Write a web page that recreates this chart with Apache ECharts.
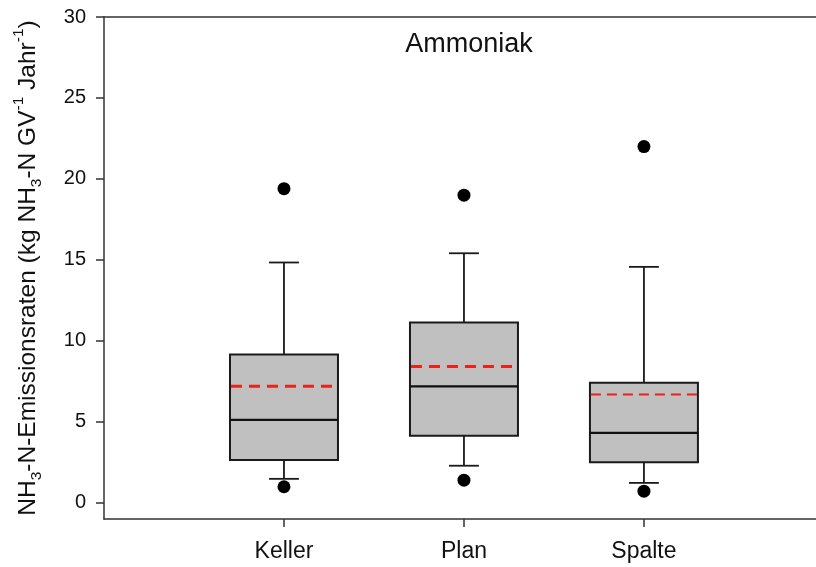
<!DOCTYPE html>
<html>
<head>
<meta charset="utf-8">
<script src="https://cdn.jsdelivr.net/npm/echarts@6/dist/echarts.min.js"></script>
<style>html,body{margin:0;padding:0;background:#fff}#c{width:816px;height:567px}</style>
</head>
<body>
<div id="c"></div>
<script>
// ---- data ----
const categories = ['Keller', 'Plan', 'Spalte'];
const whiskerLow = [1.48, 2.29, 1.23];
const q1 = [2.64, 4.14, 2.51];
const median = [5.12, 7.19, 4.32];
const q3 = [9.16, 11.13, 7.41];
const whiskerHigh = [14.84, 15.41, 14.57];
const mean = [7.19, 8.42, 6.69];
const outliers = [[1, 19.4], [1, 0.99], [2, 19.0], [2, 1.40], [3, 22.0], [3, 0.72]];
const yTicks = [0, 5, 10, 15, 20, 25, 30];
const xTicks = [1, 2, 3];

// ---- styles ----
const meanWidth = [3, 3, 2];
const meanDash = [[11, 7], [11, 7], [10, 6]];
const BOX_HALF = 0.3;
const CAP_HALF = 0.083;
const FONT = "'Liberation Sans', Arial, sans-serif";

const boxData = categories.map((c, i) => [i + 1, whiskerLow[i], q1[i], median[i], q3[i], whiskerHigh[i], mean[i]]);

const axisLineStyle = { color: '#333', width: 1.5 };

const chart = echarts.init(document.getElementById('c'));
chart.setOption({
  animation: false,
  backgroundColor: '#fff',
  textStyle: { fontFamily: FONT },
  title: {
    text: 'Ammoniak', left: 464, top: 26, textAlign: 'center',
    textStyle: { fontFamily: FONT, fontSize: 27, fontWeight: 'normal', color: '#111' }
  },
  grid: { left: 104, right: 0, top: 17, bottom: 48, show: false },
  xAxis: [{
    type: 'value', min: 0, max: 3.956, position: 'bottom',
    splitLine: { show: false },
    axisLine: { show: true, onZero: false, lineStyle: axisLineStyle },
    axisTick: { show: true, customValues: xTicks, length: 8, lineStyle: axisLineStyle },
    axisLabel: { customValues: xTicks, formatter: v => categories[Math.round(v) - 1] || '', fontSize: 23, margin: 21, color: '#111', fontFamily: FONT }
  }, {
    type: 'value', min: 0, max: 3.956, position: 'top',
    splitLine: { show: false },
    axisLine: { show: true, onZero: false, lineStyle: axisLineStyle },
    axisTick: { show: false },
    axisLabel: { show: false }
  }],
  yAxis: {
    type: 'value', min: -1, max: 30,
    name: '{m|NH}{s|3}{m|-N-Emissionsraten (kg NH}{s|3}{m|-N GV}{p|-1}{m| Jahr}{p|-1}{m|)}',
    nameLocation: 'middle', nameRotate: 90, nameGap: 59,
    nameTextStyle: {
      color: '#111', fontFamily: FONT,
      rich: {
        m: { fontSize: 24.5, lineHeight: 34, color: '#111', fontFamily: FONT },
        s: { fontSize: 15.5, verticalAlign: 'bottom', color: '#111', fontFamily: FONT },
        p: { fontSize: 15.5, verticalAlign: 'top', color: '#111', fontFamily: FONT }
      }
    },
    splitLine: { show: false },
    axisLine: { show: true, onZero: false, lineStyle: axisLineStyle },
    axisTick: { show: true, customValues: yTicks, length: 8, lineStyle: axisLineStyle },
    axisLabel: { customValues: yTicks, fontSize: 20, margin: 18, color: '#111', fontFamily: FONT }
  },
  series: [
    {
      type: 'custom',
      xAxisIndex: 0,
      data: boxData,
      renderItem: function (params, api) {
        const i = params.dataIndex;
        const x = api.value(0);
        const px = api.coord([x, 0])[0];
        const y = k => api.coord([x, api.value(k)])[1];
        const hw = api.size([BOX_HALF, 0])[0];
        const cw = api.size([CAP_HALF, 0])[0];
        const yLo = y(1), yQ1 = y(2), yMed = y(3), yQ3 = y(4), yHi = y(5), yMean = y(6);
        const black = { stroke: '#1a1a1a', lineWidth: 1.8 };
        return {
          type: 'group',
          children: [
            { type: 'line', shape: { x1: px, y1: yQ3, x2: px, y2: yHi }, style: black },
            { type: 'line', shape: { x1: px - cw, y1: yHi, x2: px + cw, y2: yHi }, style: black },
            { type: 'line', shape: { x1: px, y1: yQ1, x2: px, y2: yLo }, style: black },
            { type: 'line', shape: { x1: px - cw, y1: yLo, x2: px + cw, y2: yLo }, style: black },
            { type: 'rect', shape: { x: px - hw, y: yQ3, width: 2 * hw, height: yQ1 - yQ3 }, style: { fill: '#c0c0c0', stroke: '#1a1a1a', lineWidth: 2 } },
            { type: 'line', shape: { x1: px - hw, y1: yMed, x2: px + hw, y2: yMed }, style: { stroke: '#111', lineWidth: 2.2 } },
            { type: 'line', shape: { x1: px - hw + 1, y1: yMean, x2: px + hw - 1, y2: yMean }, style: { stroke: '#e8231c', lineWidth: meanWidth[i], lineDash: meanDash[i] } }
          ]
        };
      },
      z: 2
    },
    {
      type: 'scatter',
      xAxisIndex: 0,
      data: outliers,
      symbol: 'circle',
      symbolSize: 13,
      itemStyle: { color: '#000', opacity: 1 },
      z: 3
    }
  ]
});
</script>
</body>
</html>
